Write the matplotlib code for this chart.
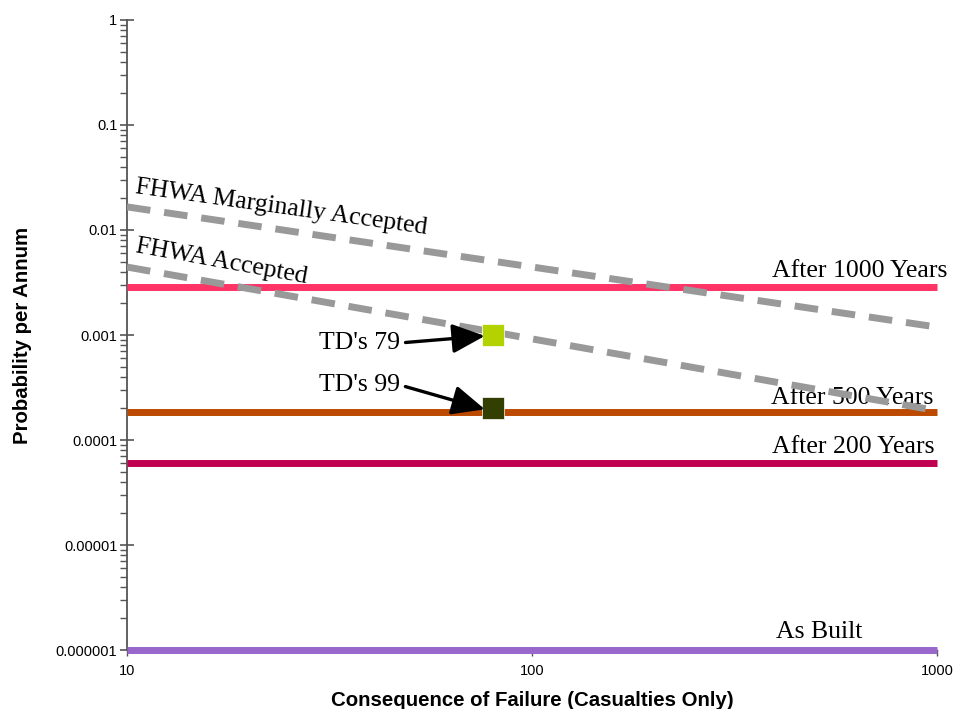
import matplotlib
matplotlib.use("Agg")
import matplotlib.pyplot as plt
from matplotlib.ticker import LogLocator, FixedLocator, FixedFormatter, NullLocator

# Data
x_range = [10, 1000]
horiz_labels = ["After 1000 Years", "After 500 Years", "After 200 Years", "As Built"]
horiz_values = [0.00285, 0.000185, 0.00006, 0.000001]
horiz_colors = ["#ff3366", "#bb4a00", "#c00050", "#9966cc"]

fhwa_marg_x = [10, 1000]
fhwa_marg_y = [0.0166, 0.00119]
fhwa_acc_x = [10, 1000]
fhwa_acc_y = [0.00444, 0.00019]

td_labels = ["TD's 79", "TD's 99"]
td_x = [80, 80]
td_y = [0.001, 0.0002]
td_colors = ["#b3d200", "#333f00"]

y_ticks = [1e-6, 1e-5, 1e-4, 1e-3, 1e-2, 1e-1, 1]
y_ticklabels = ["0.000001", "0.00001", "0.0001", "0.001", "0.01", "0.1", "1"]
x_ticks = [10, 100, 1000]
x_ticklabels = ["10", "100", "1000"]

fig = plt.figure(figsize=(9.54, 7.09), dpi=100)
ax = fig.add_axes([0.1331, 0.0832, 0.9822 - 0.1331, 0.9718 - 0.0832])
ax.set_xscale("log")
ax.set_yscale("log")
ax.set_xlim(10, 1000)
ax.set_ylim(1e-6, 1)

serif = "Liberation Serif"
sans = "Liberation Sans"

# Horizontal lines
for lab, v, c in zip(horiz_labels, horiz_values, horiz_colors):
    ax.plot(x_range, [v, v], color=c, lw=5, solid_capstyle="butt", zorder=3, clip_on=False)

# FHWA dashed lines
ax.plot(fhwa_marg_x, fhwa_marg_y, color="#999999", lw=5, dashes=(3.4, 2.0), zorder=4)
ax.plot(fhwa_acc_x, fhwa_acc_y, color="#999999", lw=5, dashes=(3.4, 2.0), zorder=4)

# TD points
for lab, xv, yv, c in zip(td_labels, td_x, td_y, td_colors):
    ax.plot([xv], [yv], marker="s", ms=16, color=c, mec="white", mew=0.5, zorder=6, linestyle="none")

# Labels of lines
fs = 18.5
ax.text(1058, 0.00407, "After 1000 Years", ha="right", va="center", fontsize=fs, family=serif)
ax.text(977, 0.000252, "After 500 Years", ha="right", va="center", fontsize=fs, family=serif)
ax.text(985, 0.0000865, "After 200 Years", ha="right", va="center", fontsize=fs, family=serif)
ax.text(513, 0.00000148, "As Built", ha="center", va="center", fontsize=fs, family=serif)
ax.text(24.0, 0.0162, "FHWA Marginally Accepted", ha="center", va="center", fontsize=fs,
        family=serif, rotation=-8, rotation_mode="anchor")
ax.text(17.1, 0.00496, "FHWA Accepted", ha="center", va="center", fontsize=fs,
        family=serif, rotation=-10.3, rotation_mode="anchor")

# Annotations with arrows
ann_pos = [(47.2, 0.00084), (47.2, 0.000334)]
ann_tgt = [(76.5, 0.00098), (76.5, 0.000196)]
for lab, (tx, ty), (px, py) in zip(td_labels, ann_pos, ann_tgt):
    ax.annotate(lab, xy=(px, py), xytext=(tx, ty), ha="right", va="center",
                fontsize=fs, family=serif, zorder=7,
                arrowprops=dict(arrowstyle="-|>,head_length=1.0,head_width=0.45",
                                color="black", lw=2.4, shrinkA=2, shrinkB=0,
                                relpos=(1.0, 0.5), mutation_scale=20))

# Axes styling
for s in ["top", "right"]:
    ax.spines[s].set_visible(False)
ax.spines["left"].set_color("#555555")
ax.spines["bottom"].set_color("#555555")
ax.spines["left"].set_linewidth(1.3)
ax.spines["bottom"].set_linewidth(1.0)

ax.yaxis.set_major_locator(FixedLocator(y_ticks))
ax.yaxis.set_major_formatter(FixedFormatter(y_ticklabels))
ax.yaxis.set_minor_locator(LogLocator(base=10, subs=range(2, 10), numticks=20))
ax.xaxis.set_major_locator(FixedLocator(x_ticks))
ax.xaxis.set_major_formatter(FixedFormatter(x_ticklabels))
ax.xaxis.set_minor_locator(NullLocator())

ax.tick_params(axis="y", which="major", direction="inout", length=10, width=1.2,
               color="#555555", labelsize=10.5, pad=2)
ax.tick_params(axis="y", which="minor", direction="out", length=5, width=1.0,
               color="#555555", labelleft=False)
ax.tick_params(axis="x", which="major", direction="out", length=4, width=1.0,
               color="#555555", labelsize=10.5, pad=6)
for lbl in ax.get_xticklabels() + ax.get_yticklabels():
    lbl.set_family(sans)

ax.set_xlabel("Consequence of Failure (Casualties Only)", fontsize=14.7, fontweight="bold",
              family=sans, labelpad=9.5)
ax.set_ylabel("Probability per Annum", fontsize=14.7, fontweight="bold", family=sans, labelpad=17)

fig.savefig("out.png", dpi=100)
